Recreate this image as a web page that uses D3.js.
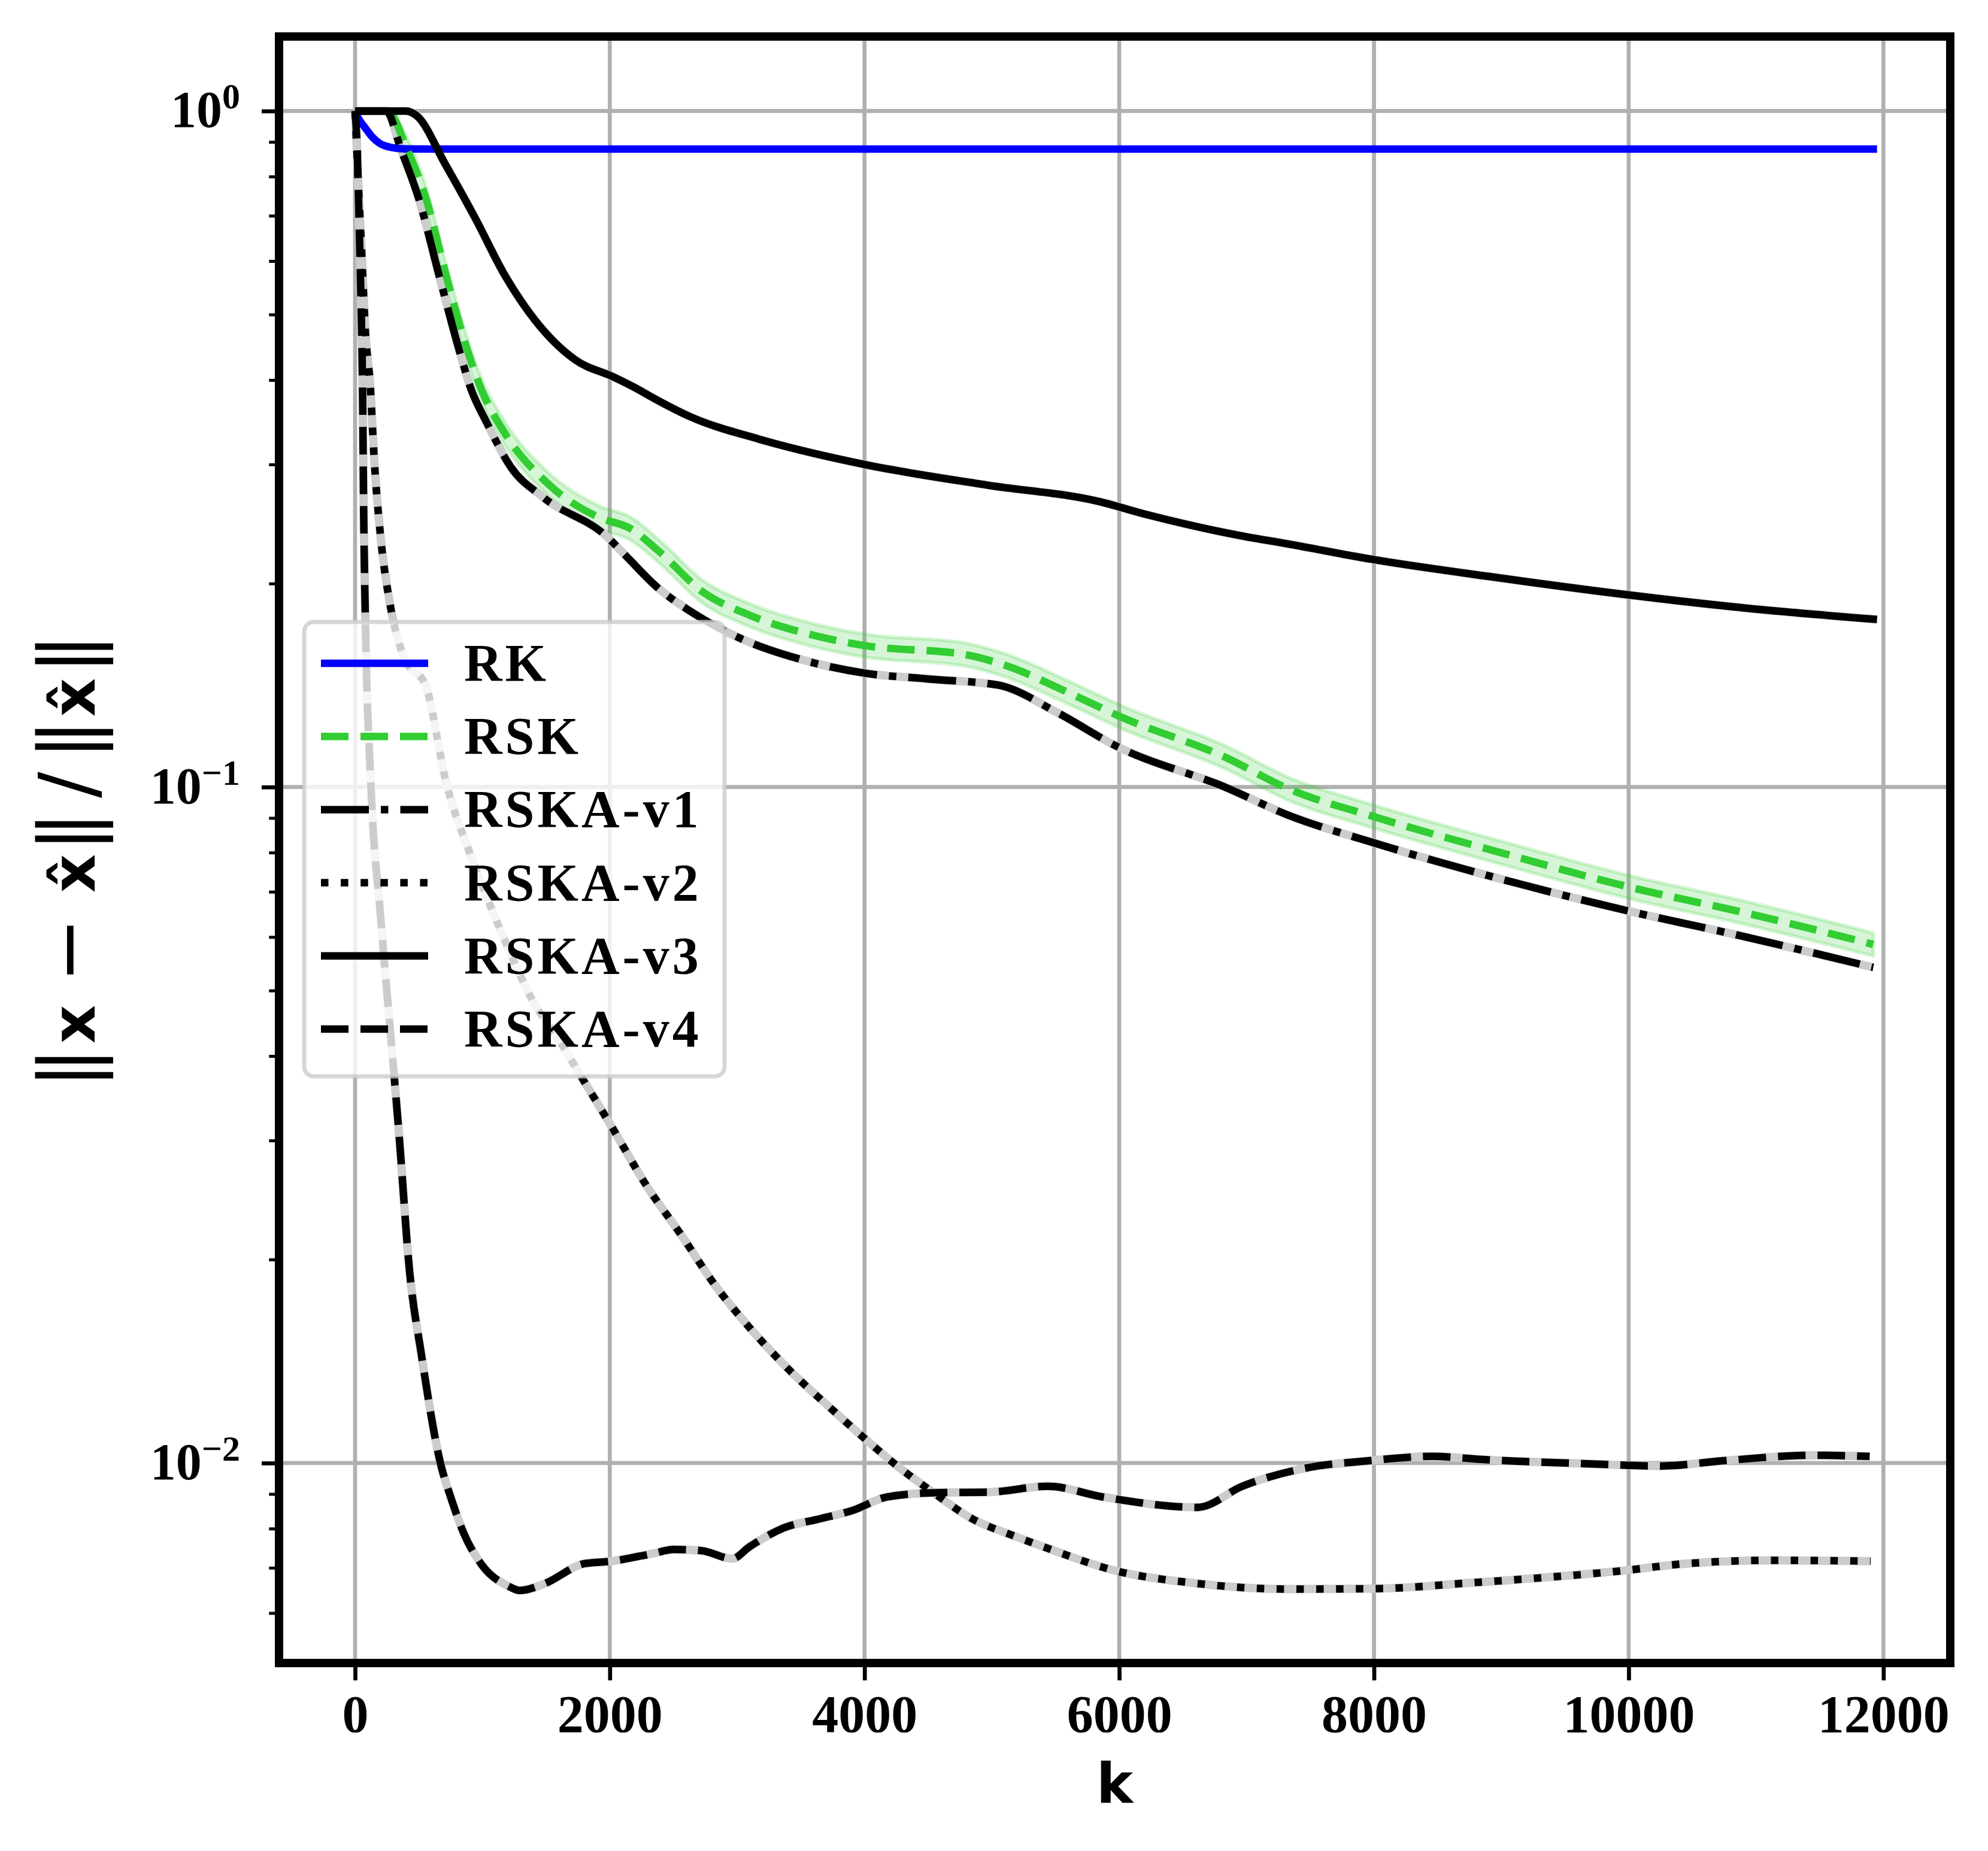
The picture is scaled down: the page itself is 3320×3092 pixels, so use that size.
<!DOCTYPE html>
<html>
<head>
<meta charset="utf-8">
<script src="https://cdn.jsdelivr.net/npm/d3@7/dist/d3.min.js"></script>
<style>
  body { margin: 0; background: #fff; }
</style>
</head>
<body>
<svg id="chart" width="3320" height="3092"></svg>
<script>
// iteration k vs relative error
const rk = [[0, 1], [17, 0.983], [80, 0.944], [143, 0.912], [237, 0.888], [393, 0.879], [628, 0.8785], [11950, 0.8785]];

const rsk = [[0, 1], [255, 1], [410, 0.876], [560, 0.739], [715, 0.571], [880, 0.444], [990, 0.388],
  [1169, 0.3353], [1528, 0.2795], [1913, 0.2506], [2165, 0.241], [2381, 0.2236], [2741, 0.1937],
  [3065, 0.1806], [3639, 0.167], [4000, 0.1619], [4790, 0.157], [5077, 0.152], [5617, 0.1375],
  [6012, 0.127], [6840, 0.1105], [7318, 0.0996], [8008, 0.0903], [8973, 0.0802], [10007, 0.0711],
  [10938, 0.065], [11920, 0.0585]];
const rskSpread = 1.04; // half-width of the shaded band (ratio)

const rskaV1 = [[0, 1], [244, 1], [362, 0.876], [503, 0.739], [660, 0.571], [816, 0.444], [910, 0.388],
  [1034, 0.346], [1225, 0.297], [1476, 0.2684], [1979, 0.2345], [2129, 0.2195], [2381, 0.1968],
  [2632, 0.182], [2992, 0.167], [3496, 0.1545], [4000, 0.1474], [4500, 0.1445], [5050, 0.1415],
  [5509, 0.129], [5979, 0.1149], [6840, 0.0998], [7318, 0.091], [8008, 0.0826], [8973, 0.0733],
  [10007, 0.0655], [10938, 0.0599], [11920, 0.0541]];

const rskaV2 = [[0, 1], [30, 0.75], [55, 0.6], [80, 0.475], [119, 0.393], [150, 0.306], [200, 0.235],
  [280, 0.184], [381, 0.156], [559, 0.1404], [714, 0.1017], [907, 0.0793], [1147, 0.0611],
  [1387, 0.0486], [1640, 0.0411], [1802, 0.0366], [2017, 0.0314], [2287, 0.02574], [2557, 0.0218],
  [2827, 0.01832], [3043, 0.0163], [3366, 0.01399], [3771, 0.01188], [4014, 0.01082], [4257, 0.0099],
  [4527, 0.00908], [4851, 0.00826], [5175, 0.0078], [5438, 0.00748], [5970, 0.00693], [6567, 0.00665],
  [7314, 0.00651], [8010, 0.00652], [8757, 0.00665], [9951, 0.00693], [10449, 0.0071],
  [11146, 0.00718], [11900, 0.00716]];

const rskaV3 = [[0, 1], [401, 1], [487, 0.983], [707, 0.835], [942, 0.695], [1177, 0.571], [1411, 0.491],
  [1725, 0.429], [2038, 0.4035], [2195, 0.39], [2345, 0.376], [2632, 0.353], [3173, 0.327],
  [4000, 0.3], [4971, 0.2795], [5833, 0.2647], [6228, 0.2526], [6947, 0.2355], [7318, 0.229],
  [8008, 0.2168], [8973, 0.204], [10007, 0.1923], [10938, 0.1838], [11950, 0.177]];

const rskaV4 = [[0, 1], [17, 0.876], [33, 0.667], [48, 0.508], [58, 0.4], [68, 0.25], [80, 0.18],
  [125, 0.1], [200, 0.0644], [308, 0.0372], [343, 0.031], [428, 0.0192], [520, 0.0145], [670, 0.01],
  [760, 0.0088], [850, 0.0079], [995, 0.00707], [1208, 0.00657], [1293, 0.00648], [1478, 0.00662],
  [1802, 0.0071], [2017, 0.00716], [2341, 0.00735], [2503, 0.00745], [2719, 0.00742], [2962, 0.00722],
  [3097, 0.00752], [3366, 0.00802], [3636, 0.00826], [3906, 0.00851], [4176, 0.00891], [4555, 0.00904],
  [4985, 0.00906], [5438, 0.00924], [5871, 0.00891], [6618, 0.0086], [6966, 0.00924], [7463, 0.00983],
  [7962, 0.01008], [8459, 0.01023], [8857, 0.01012], [9653, 0.00998], [10250, 0.0099],
  [10747, 0.01008], [11445, 0.01027], [11892, 0.01023]];

const xTicks = [0, 2000, 4000, 6000, 8000, 10000, 12000];
const yMajorTicks = [1, 0.1, 0.01];
const yTickExponents = ["0", "\u22121", "\u22122"];
const legendLabels = ["RK", "RSK", "RSKA-v1", "RSKA-v2", "RSKA-v3", "RSKA-v4"];

// layout (pixels)
const plot = { left: 466, right: 3257, top: 61, bottom: 2778 };
const lw = 12.5;
const dashed = "46,20", dashDot = "80,20,12.5,20", dotted = "12.5,20.6";

const styles = [
  { data: rk, color: "#0000ff", dash: null },
  { data: rsk, color: "#32cd32", dash: dashed },
  { data: rskaV1, color: "#000", dash: dashDot, shadow: true },
  { data: rskaV2, color: "#000", dash: dotted, shadow: true },
  { data: rskaV3, color: "#000", dash: null, shadow: true },
  { data: rskaV4, color: "#000", dash: dashed, shadow: true }
];

const svg = d3.select("#chart");
svg.append("rect").attr("width", 3320).attr("height", 3092).attr("fill", "#fff");

const x = d3.scaleLinear().domain([-597, 12525]).range([plot.left, plot.right]);
const y = d3.scaleLog().domain([Math.pow(10, -2.2958), Math.pow(10, 0.1102)]).range([plot.bottom, plot.top]);

svg.append("clipPath").attr("id", "clip")
  .append("rect")
  .attr("x", plot.left).attr("y", plot.top)
  .attr("width", plot.right - plot.left).attr("height", plot.bottom - plot.top);

// grid
const grid = svg.append("g").attr("stroke", "#b0b0b0").attr("stroke-width", 6.7);
grid.selectAll("line.gx").data(xTicks).enter().append("line")
  .attr("x1", d => x(d)).attr("x2", d => x(d))
  .attr("y1", plot.top).attr("y2", plot.bottom);
grid.selectAll("line.gy").data(yMajorTicks).enter().append("line")
  .attr("y1", d => y(d)).attr("y2", d => y(d))
  .attr("x1", plot.left).attr("x2", plot.right);

const curves = svg.append("g").attr("clip-path", "url(#clip)");

const line = d3.line()
  .x(d => x(d[0]))
  .y(d => y(d[1]))
  .curve(d3.curveMonotoneX);

// green band around RSK (no spread while every run is still at 1)
const spreadAt = d => (d[1] >= 1 ? 1 : rskSpread);
const band = d3.area()
  .x(d => x(d[0]))
  .y0(d => y(d[1] / spreadAt(d)))
  .y1(d => y(d[1] * spreadAt(d)))
  .curve(d3.curveMonotoneX);
curves.append("path")
  .datum(rsk)
  .attr("d", band)
  .attr("fill", "#32cd32").attr("fill-opacity", 0.2)
  .attr("stroke", "#32cd32").attr("stroke-opacity", 0.2).attr("stroke-width", 6);

// light grey spread under the RSKA curves
styles.filter(s => s.shadow).forEach(s => {
  curves.append("path")
    .datum(s.data)
    .attr("d", line)
    .attr("fill", "none")
    .attr("stroke", "#cccccc")
    .attr("stroke-width", 14)
    .attr("stroke-linejoin", "round");
});

styles.forEach(s => {
  curves.append("path")
    .datum(s.data)
    .attr("d", line)
    .attr("fill", "none")
    .attr("stroke", s.color)
    .attr("stroke-width", lw)
    .attr("stroke-linejoin", "round")
    .attr("stroke-dasharray", s.dash);
});

// x axis
const xAxis = svg.append("g")
  .attr("transform", `translate(0,${plot.bottom})`)
  .call(d3.axisBottom(x).tickValues(xTicks).tickSize(29).tickFormat(d3.format("d")));
xAxis.select(".domain").remove();
xAxis.selectAll(".tick line").attr("stroke", "#000").attr("stroke-width", 6.7);
xAxis.selectAll(".tick text")
  .attr("y", 115).attr("dy", null)
  .attr("font-family", "'Liberation Serif', serif")
  .attr("font-weight", "bold")
  .attr("font-size", 88)
  .attr("fill", "#000");

// y axis: major and minor ticks
const yMinor = [];
[0.001, 0.01, 0.1].forEach(dec => {
  for (let m = 2; m <= 9; m++) {
    const v = m * dec;
    if (v >= y.domain()[0] && v <= y.domain()[1]) yMinor.push(v);
  }
});
const yAxisMinor = svg.append("g")
  .attr("transform", `translate(${plot.left},0)`)
  .call(d3.axisLeft(y).tickValues(yMinor).tickSize(16.7).tickFormat(""));
yAxisMinor.select(".domain").remove();
yAxisMinor.selectAll(".tick line").attr("stroke", "#000").attr("stroke-width", 5);

const yAxis = svg.append("g")
  .attr("transform", `translate(${plot.left},0)`)
  .call(d3.axisLeft(y).tickValues(yMajorTicks).tickSize(29).tickFormat(""));
yAxis.select(".domain").remove();
yAxis.selectAll(".tick line").attr("stroke", "#000").attr("stroke-width", 6.7);

const yLabels = svg.append("g")
  .attr("font-family", "'Liberation Serif', serif")
  .attr("font-weight", "bold")
  .attr("fill", "#000");
yMajorTicks.forEach((v, i) => {
  const t = yLabels.append("text")
    .attr("x", 401)
    .attr("y", y(v) + 27)
    .attr("text-anchor", "end")
    .attr("font-size", 86);
  t.append("tspan").text("10");
  t.append("tspan").attr("font-size", 60).attr("dy", -31).text(yTickExponents[i]);
});

// spines
svg.append("rect")
  .attr("x", plot.left).attr("y", plot.top)
  .attr("width", plot.right - plot.left).attr("height", plot.bottom - plot.top)
  .attr("fill", "none").attr("stroke", "#000").attr("stroke-width", 14)
  .attr("stroke-linejoin", "miter");

// axis titles
svg.append("text")
  .attr("x", (plot.left + plot.right) / 2)
  .attr("y", 3012)
  .attr("text-anchor", "middle")
  .attr("font-family", "'DejaVu Sans', sans-serif")
  .attr("font-weight", "bold")
  .attr("font-size", 92)
  .text("k");

// ||x - x^|| / ||x^||, set piece by piece like the math layout (bottom to top)
const yTitle = svg.append("g")
  .attr("font-family", "'DejaVu Sans', sans-serif")
  .attr("fill", "#000");
[["|", "normal", 130, 1771], ["|", "normal", 130, 1796],
 ["x", "bold", 100, 1711],
 ["\u2212", "normal", 130, 1587],
 ["x\u0302", "bold", 100, 1459],
 ["|", "normal", 130, 1377], ["|", "normal", 130, 1401],
 ["/", "normal", 130, 1311],
 ["|", "normal", 130, 1223], ["|", "normal", 130, 1247],
 ["x\u0302", "bold", 100, 1165],
 ["|", "normal", 130, 1080], ["|", "normal", 130, 1104]]
  .forEach(([s, w, size, pos]) => {
    yTitle.append("text")
      .attr("transform", `translate(158,${pos}) rotate(-90)`)
      .attr("text-anchor", "middle")
      .attr("font-weight", w)
      .attr("font-size", size)
      .text(s);
  });

// legend
const legend = svg.append("g");
legend.append("rect")
  .attr("x", 508).attr("y", 1039)
  .attr("width", 702).attr("height", 759)
  .attr("rx", 16).attr("ry", 16)
  .attr("fill", "#fff").attr("fill-opacity", 0.8)
  .attr("stroke", "#cccccc").attr("stroke-opacity", 0.8).attr("stroke-width", 7);

legendLabels.forEach((label, i) => {
  const cy = 1108 + i * 122.2;
  const s = styles[i];
  legend.append("line")
    .attr("x1", 536).attr("x2", 715)
    .attr("y1", cy).attr("y2", cy)
    .attr("stroke", s.color)
    .attr("stroke-width", lw)
    .attr("stroke-dasharray", s.dash);
  legend.append("text")
    .attr("x", 775).attr("y", cy + 29)
    .attr("font-family", "'Liberation Serif', serif")
    .attr("font-weight", "bold")
    .attr("font-size", 88)
    .attr("letter-spacing", 5)
    .attr("fill", "#000")
    .text(label);
});
</script>
</body>
</html>
